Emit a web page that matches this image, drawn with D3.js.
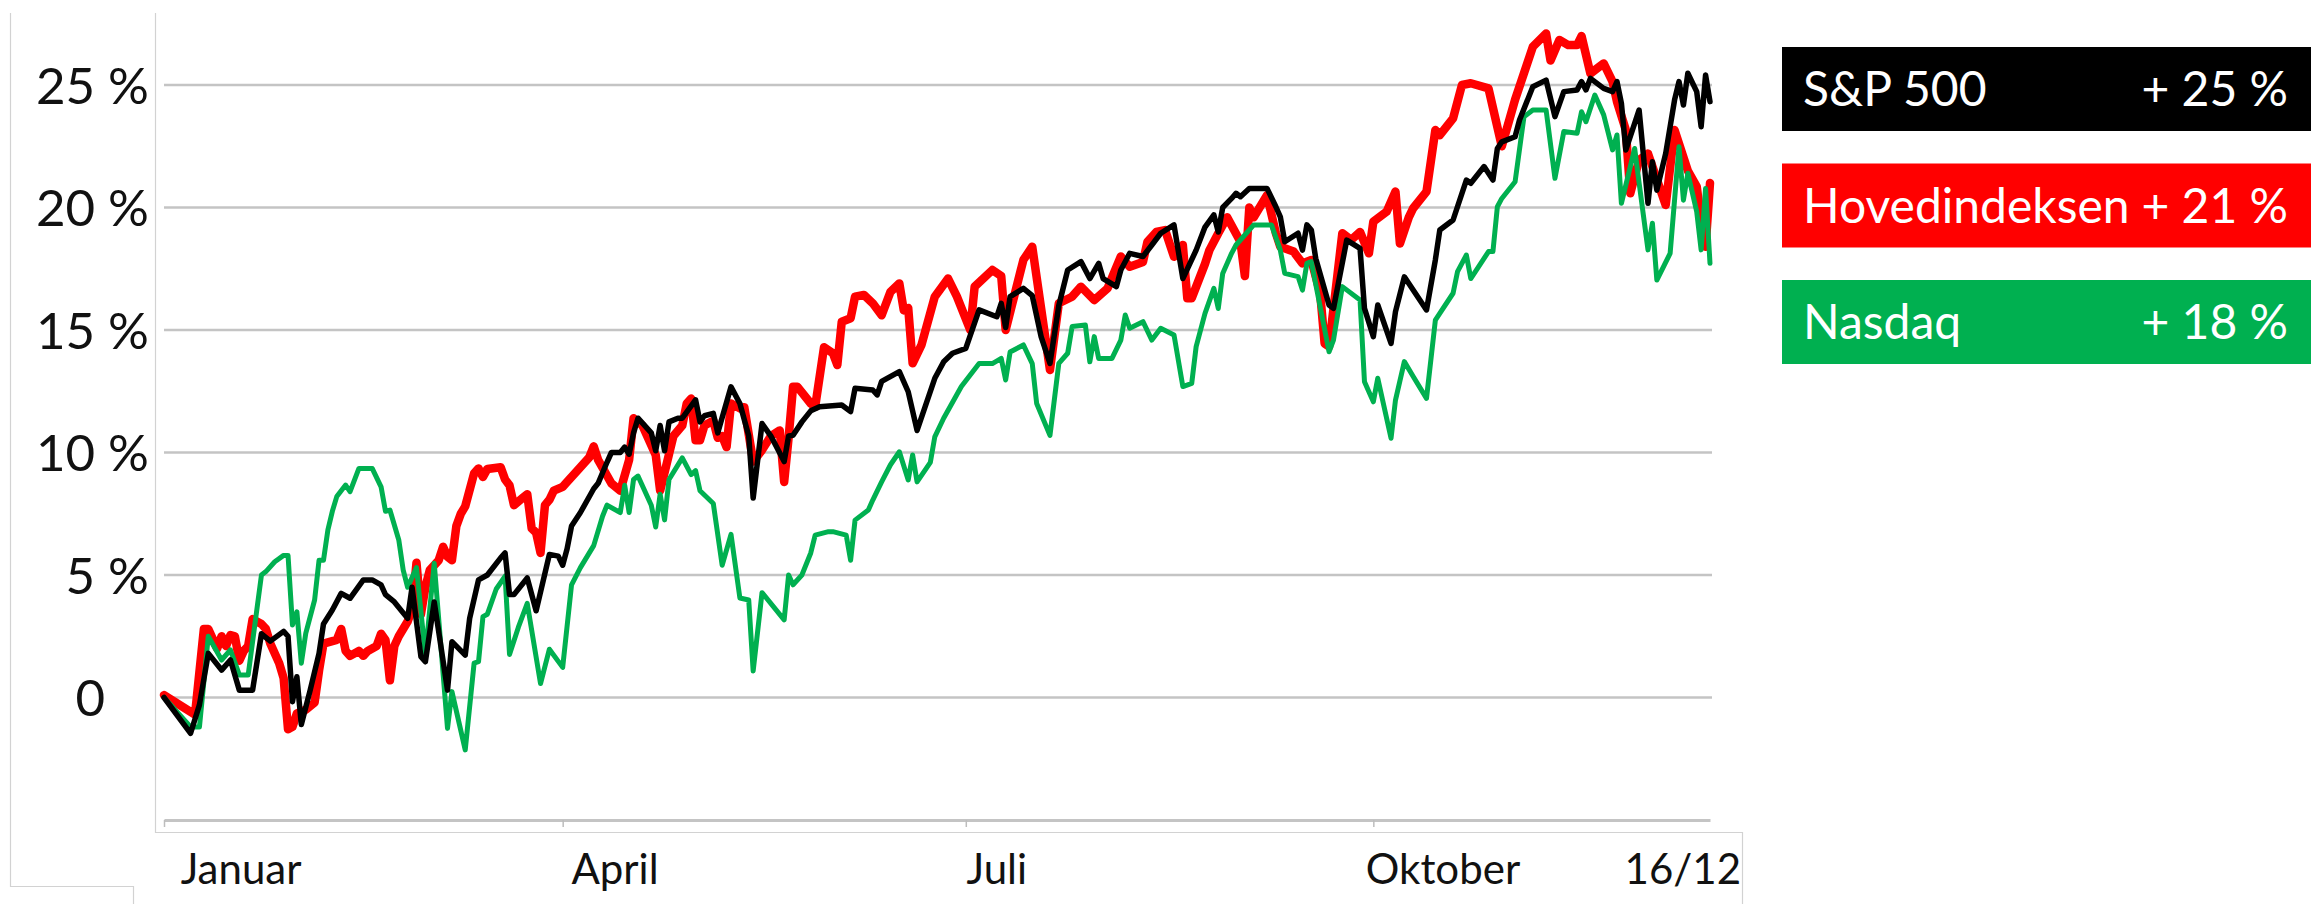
<!DOCTYPE html>
<html>
<head>
<meta charset="utf-8">
<script src="https://cdn.jsdelivr.net/npm/d3@7"></script>
<style>
  html, body { margin: 0; padding: 0; background: #fff; }
  svg { display: block; }
  text { font-family: Lato, "Open Sans", sans-serif; }
</style>
</head>
<body>
<svg id="chart"></svg>
<script>
const chartSize = {width: 2311, height: 904};
const plot = {left: 164, right: 1710, top: 85, bottom: 820};

const startDate = new Date(2021, 0, 1);
const endDate = new Date(2021, 11, 16);

const yTicks = [0, 5, 10, 15, 20, 25];
const monthTicks = [0, 3, 6, 9];
const monthLabels = ["Januar", "April", "Juli", "Oktober"];
const endLabel = "16/12";

const seriesNames = ["S&P 500", "Hovedindeksen", "Nasdaq"];
const seriesChanges = ["+ 25 %", "+ 21 %", "+ 18 %"];

const BLACK = "#000000";
const RED = "#ff0000";
const GREEN = "#00b050";

// [day of 2021 (0 = 1. januar), change since new year in %]
const sp500 = [
  [0,0],[6,-1.46],[8,-0.3],[10,1.8],[13,1.12],[15,1.53],[17,0.3],[20,0.3],[22,2.6],[24,2.3],
  [27,2.7],[28,2.5],[29,-0.17],[30,0.85],[31,-1.1],[33,0.3],[35,1.8],[36,3.0],[38,3.57],[40,4.25],
  [42,4.05],[45,4.8],[47,4.8],[49,4.6],[50,4.2],[52,3.9],[55,3.23],[56,4.5],[58,1.67],[59,1.46],
  [61,3.9],[64,0.3],[65,2.28],[68,1.73],[69,3.23],[71,4.8],[73,5.0],[76,5.7],[77,5.9],[78,4.2],
  [79,4.2],[82,4.88],[84,3.54],[87,5.84],[89,5.77],[90,5.4],[91,6.07],[92,7.0],[94,7.55],[97,8.52],
  [98,8.74],[100,9.6],[101,10.0],[103,10.0],[104,10.22],[105,9.93],[106,10.8],[107,11.4],[110,10.8],[111,10.07],
  [112,11.1],[113,10.07],[114,11.25],[116,11.4],[117,11.4],[120,12.15],[121,11.25],[122,11.5],[124,11.6],[125,10.8],
  [128,12.68],[130,12.0],[132,10.67],[133,8.14],[135,11.18],[137,10.67],[140,9.63],[141,10.67],[142,10.7],[144,11.25],
  [146,11.7],[148,11.87],[153,11.94],[155,11.67],[156,12.62],[160,12.55],[161,12.35],[162,12.9],[166,13.3],[168,12.48],
  [170,10.9],[174,13.03],[176,13.7],[178,14.05],[181,14.25],[184,15.82],[188,15.54],[189,16.09],[190,15.1],[191,16.36],
  [194,16.7],[196,16.4],[198,14.73],[200,13.64],[202,16.0],[204,17.45],[207,17.79],[209,17.1],[211,17.72],[212,17.1],
  [215,16.77],[216,17.45],[218,18.13],[221,18.0],[223,18.47],[225,18.95],[228,19.29],[230,17.1],[233,18.26],[235,19.2],
  [237,19.7],[238,19.0],[239,20.0],[241,20.37],[242,20.58],[243,20.44],[245,20.78],[249,20.78],[251,20.03],[252,19.62],
  [253,18.6],[256,18.95],[257,18.26],[258,19.29],[259,19.08],[260,17.92],[263,16.02],[264,15.88],[267,18.67],[270,18.33],
  [271,15.88],[273,14.73],[274,16.02],[277,14.45],[278,15.75],[280,17.17],[285,15.82],[287,17.86],[288,19.08],[291,19.49],
  [294,21.12],[295,20.99],[298,21.67],[300,21.12],[301,22.41],[302,22.68],[305,22.89],[306,23.57],[309,24.93],[312,25.2],
  [314,23.71],[316,24.73],[319,24.8],[320,25.14],[321,24.8],[322,25.27],[325,24.86],[327,24.73],[328,25.14],[329,24.25],
  [330,22.35],[333,23.98],[335,20.17],[336,21.87],[337,20.71],[339,22.21],[341,24.39],[342,25.14],[343,24.18],[344,25.48],
  [346,24.73],[347,23.3],[348,25.41],[349,24.32]
];

const hovedindeksen = [
  [0,0.1],[7,-0.7],[9,2.8],[10,2.8],[12,2.0],[13,2.5],[14,2.1],[15,2.55],[16,2.5],[17,1.5],
  [18,1.9],[19,2.1],[20,3.2],[22,3.0],[23,2.8],[24,2.2],[26,1.4],[27,0.8],[28,-1.3],[29,-1.2],
  [30,-0.65],[32,-0.5],[34,-0.2],[35,1.1],[36,2.2],[38,2.3],[39,2.35],[40,2.8],[41,1.9],[42,1.7],
  [44,1.9],[45,1.7],[46,1.9],[48,2.1],[49,2.6],[50,2.35],[51,0.7],[52,2.1],[53,2.5],[55,3.1],
  [56,3.6],[57,5.5],[58,3.4],[59,4.5],[60,5.2],[62,5.6],[63,6.15],[64,5.75],[65,5.6],[66,7.0],
  [67,7.5],[68,7.8],[70,9.15],[71,9.35],[72,9.0],[73,9.33],[76,9.4],[77,8.9],[78,8.66],[79,7.85],
  [81,8.15],[82,8.3],[83,6.9],[84,6.73],[85,5.9],[86,7.85],[87,8.07],[88,8.44],[90,8.6],[91,8.8],
  [93,9.2],[96,9.8],[97,10.25],[98,9.7],[101,8.74],[103,8.44],[105,9.7],[106,11.4],[108,11.1],[111,9.9],
  [112,8.44],[114,9.93],[115,10.67],[117,11.1],[118,12.0],[119,12.2],[120,10.5],[121,10.5],[122,11.1],[124,11.3],
  [125,10.6],[126,10.67],[127,10.22],[128,12.0],[130,11.8],[131,11.85],[133,9.63],[135,10.1],[137,10.67],[139,10.9],
  [140,8.8],[141,10.6],[142,12.68],[143,12.68],[146,12.0],[147,11.87],[149,14.3],[151,14.05],[152,13.57],[153,15.34],
  [155,15.48],[156,16.36],[158,16.43],[160,16.09],[162,15.6],[164,16.56],[166,16.9],[167,15.8],[168,15.9],[169,13.64],
  [171,14.39],[174,16.36],[177,17.1],[179,16.36],[182,15.0],[183,16.77],[187,17.45],[189,17.2],[190,15.0],[194,17.86],
  [196,18.4],[200,13.37],[202,16.09],[205,16.36],[207,16.77],[210,16.22],[213,16.7],[216,18.0],[218,17.58],[221,17.78],
  [222,18.6],[224,19.0],[226,19.08],[228,17.99],[230,18.47],[231,16.3],[232,16.3],[235,17.7],[236,18.26],[238,18.95],
  [240,19.6],[243,18.6],[244,17.2],[245,20.0],[246,19.6],[249,20.5],[251,18.95],[252,18.4],[255,18.2],[257,17.72],
  [259,17.86],[261,16.5],[262,14.45],[263,14.32],[266,18.95],[268,18.68],[270,19.0],[272,18.13],[273,19.42],[276,19.83],
  [278,20.65],[279,18.53],[281,19.6],[282,19.97],[285,20.65],[287,23.16],[288,22.95],[291,23.64],[293,25.0],[295,25.07],
  [299,24.86],[302,22.5],[305,24.4],[309,26.56],[312,27.1],[313,26.0],[315,26.84],[317,26.63],[319,26.63],[320,27.0],
  [322,25.47],[325,25.88],[327,25.14],[328,24.32],[330,23.16],[331,20.58],[333,21.94],[335,22.2],[339,20.1],[341,23.16],
  [344,21.5],[346,20.85],[347,19.5],[348,18.4],[349,21.0]
];

const nasdaq = [
  [0,0],[6,-1.2],[8,-1.2],[10,2.5],[13,1.53],[15,1.94],[17,0.92],[19,0.92],[22,5.0],[23,5.14],
  [25,5.54],[27,5.8],[28,5.8],[29,2.96],[30,3.5],[31,1.4],[32,2.62],[34,3.98],[35,5.6],[36,5.6],
  [37,6.84],[38,7.6],[39,8.2],[41,8.67],[42,8.4],[44,9.35],[47,9.35],[49,8.6],[50,7.6],[51,7.65],
  [53,6.43],[54,5.2],[55,4.5],[57,5.3],[59,1.73],[61,5.48],[64,-1.26],[65,0.24],[68,-2.14],[70,1.4],
  [71,1.46],[72,3.3],[73,3.4],[75,4.43],[77,4.95],[78,1.76],[80,2.87],[82,3.84],[85,0.57],[87,1.97],
  [90,1.23],[92,4.6],[94,5.3],[97,6.2],[99,7.4],[100,7.85],[103,7.55],[104,8.66],[105,7.55],[106,8.9],
  [107,9.04],[110,7.85],[111,6.96],[112,8.3],[113,7.25],[114,8.9],[117,9.78],[119,9.1],[120,9.26],[121,8.44],
  [124,7.92],[126,5.4],[128,6.66],[130,4.06],[132,3.98],[133,1.08],[135,4.28],[140,3.17],[141,5.0],[142,4.6],
  [144,5.0],[146,5.9],[147,6.63],[150,6.77],[151,6.77],[154,6.63],[155,5.6],[156,7.24],[159,7.65],[160,8.06],
  [162,8.8],[164,9.5],[166,10.03],[168,8.88],[169,9.9],[170,8.8],[173,9.6],[174,10.64],[176,11.4],[180,12.69],
  [184,13.63],[187,13.63],[189,13.84],[190,12.96],[191,14.1],[194,14.39],[196,13.63],[197,12.0],[200,10.7],[202,13.64],
  [204,14.05],[205,15.14],[208,15.2],[209,13.7],[210,14.73],[211,13.84],[214,13.84],[216,14.59],[217,15.61],[218,15.07],
  [221,15.34],[223,14.59],[225,15.07],[228,14.8],[230,12.69],[232,12.82],[233,14.32],[235,15.68],[237,16.7],[238,15.88],
  [239,17.31],[241,18.13],[242,18.47],[246,19.29],[250,19.29],[252,18.26],[253,17.31],[256,17.18],[257,16.63],[258,17.72],
  [259,17.79],[263,14.11],[264,14.59],[266,16.77],[270,16.22],[271,12.89],[273,12.07],[274,13.03],[277,10.58],[278,12.14],
  [280,13.71],[282,13.1],[285,12.21],[287,15.4],[288,15.68],[291,16.5],[292,17.38],[294,18.06],[295,17.1],[299,18.2],
  [300,18.2],[301,20.03],[302,20.37],[305,21.05],[307,23.7],[309,23.98],[312,23.98],[314,21.19],[316,23.1],[319,23.03],
  [320,23.91],[321,23.5],[323,24.59],[325,23.78],[327,22.35],[328,22.96],[329,20.17],[332,22.41],[333,21.0],[335,18.27],
  [336,19.36],[337,17.04],[340,18.13],[342,22.48],[343,20.3],[344,21.4],[346,19.83],[347,18.27],[348,20.78],[349,17.72]
];

const drawChart = () => {
  const svg = d3.select("#chart")
    .attr("width", chartSize.width)
    .attr("height", chartSize.height);

  const x = d3.scaleTime()
    .domain([startDate, endDate])
    .range([plot.left, plot.right]);

  const y = d3.scaleLinear()
    .domain([-5, 25])
    .range([plot.bottom, plot.top]);

  const dayToDate = d => d3.timeDay.offset(startDate, d);

  // thin frame lines left over from the page layout
  svg.append("path")
    .attr("d", "M10.5,13V886.5H133.5V904M155.5,13V832.5H1742.5V904")
    .attr("fill", "none")
    .attr("stroke", "#d2d2d2")
    .attr("stroke-width", 1.2);

  // gridlines
  svg.append("g")
    .selectAll("line")
    .data(yTicks)
    .enter()
    .append("line")
    .attr("x1", plot.left)
    .attr("x2", plot.right + 2)
    .attr("y1", d => y(d))
    .attr("y2", d => y(d))
    .attr("stroke", "#c4c4c4")
    .attr("stroke-width", 2.6);

  // x axis
  const xAxis = d3.axisBottom(x)
    .tickValues(monthTicks.map(m => new Date(2021, m, 1)))
    .tickSize(7)
    .tickSizeOuter(0)
    .tickFormat("");

  const xg = svg.append("g")
    .attr("class", "x-axis")
    .attr("transform", `translate(0,${plot.bottom})`)
    .call(xAxis);
  xg.select(".domain").attr("stroke", "#c4c4c4").attr("stroke-width", 3);
  xg.selectAll(".tick line").attr("stroke", "#bdbdbd").attr("stroke-width", 1.5);

  // month labels sit on a slightly tighter spacing than the ticks
  const labelX = m => 0.98 * x(new Date(2021, m, 1)) + 20;

  svg.append("g")
    .selectAll("text")
    .data(monthTicks)
    .enter()
    .append("text")
    .attr("x", labelX)
    .attr("y", 884)
    .attr("font-size", 42)
    .attr("fill", "#111")
    .text((m, i) => monthLabels[i]);

  svg.append("text")
    .attr("x", 1741)
    .attr("y", 884)
    .attr("text-anchor", "end")
    .attr("font-size", 42)
    .attr("fill", "#111")
    .text(endLabel);

  // y axis labels
  const yAxis = d3.axisLeft(y)
    .tickValues(yTicks)
    .tickSize(0)
    .tickPadding(0)
    .tickFormat(d => d === 0 ? "0" : `${d} %`);

  const yg = svg.append("g")
    .attr("class", "y-axis")
    .attr("transform", "translate(149,0)")
    .call(yAxis);
  yg.select(".domain").remove();
  yg.selectAll("text")
    .attr("font-family", "Lato, sans-serif")
    .attr("font-size", 51)
    .attr("fill", "#111")
    .attr("dy", "0.36em")
    .attr("dx", d => d === 0 ? -44 : 0);

  // lines
  const line = d3.line()
    .x(d => x(dayToDate(d[0])))
    .y(d => y(d[1]));

  const series = [
    {data: hovedindeksen, color: RED, width: 8.5},
    {data: nasdaq, color: GREEN, width: 5},
    {data: sp500, color: BLACK, width: 5.5}
  ];

  svg.append("g")
    .selectAll("path")
    .data(series)
    .enter()
    .append("path")
    .attr("d", s => line(s.data))
    .attr("fill", "none")
    .attr("stroke", s => s.color)
    .attr("stroke-width", s => s.width)
    .attr("stroke-linejoin", "round")
    .attr("stroke-linecap", "round");

  // legend
  const legendColors = [BLACK, RED, GREEN];
  const legend = svg.append("g")
    .selectAll("g")
    .data(seriesNames)
    .enter()
    .append("g")
    .attr("transform", (d, i) => `translate(1782,${47 + i * 116.5})`);

  legend.append("rect")
    .attr("width", 529)
    .attr("height", 84)
    .attr("fill", (d, i) => legendColors[i]);

  legend.append("text")
    .attr("x", 21)
    .attr("y", 59)
    .attr("font-size", 48)
    .attr("fill", "#fff")
    .text(d => d);

  legend.append("text")
    .attr("x", 506)
    .attr("y", 59)
    .attr("text-anchor", "end")
    .attr("font-size", 48)
    .attr("fill", "#fff")
    .text((d, i) => seriesChanges[i]);
};

window.onload = drawChart;
</script>
</body>
</html>
